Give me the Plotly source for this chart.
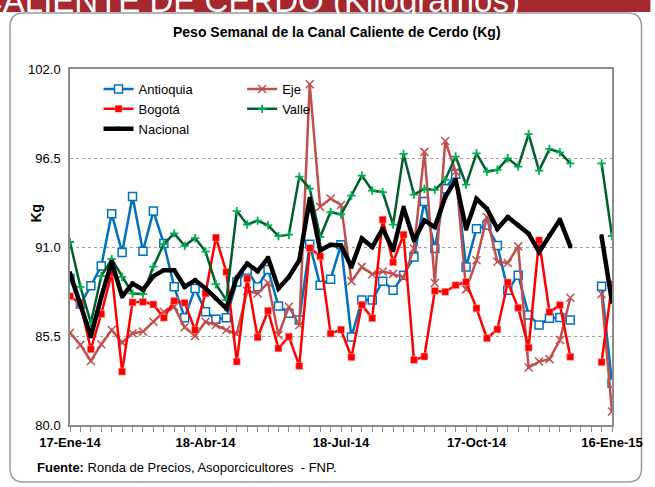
import pandas as pd
import plotly.graph_objects as go

# semanas: 17-Ene-14 ... 16-Ene-15
semanas = pd.date_range("2014-01-17", periods=53, freq="7D")

antioquia = [89.05, 87.47, 88.6, 89.83, 93.06, 90.66, 94.12, 90.74, 93.22, 91.21,
             88.54, 86.63, 88.44, 87.0, 86.53, 86.63, 88.84, 89.57, 88.54, 89.61,
             87.35, 86.9, 86.49, 91.17, 88.64, 89.01, 91.14, 85.44, 87.72, 87.72,
             88.89, 88.33, 89.26, 90.38, 93.81, 90.9, 94.6, 95.5, 89.77, 92.13,
             92.34, 91.1, 88.33, 89.26, 86.8, 86.18, 86.59, 86.65, 86.49, None,
             None, 88.58, 82.59]

eje = [85.7, 84.95, 83.96, 84.99, 85.87, 85.09, 85.67, 85.77, 86.38, 87.0,
       87.31, 86.04, 85.5, 86.38, 86.18, 85.87, 85.62, 88.29, 88.13, 88.78,
       85.56, 87.31, 86.18, 101.06, 93.48, 94.0, 93.6, 88.89, 89.77, 89.32,
       89.49, 89.34, 89.1, 90.9, 96.88, 88.78, 97.55, 95.66, 88.38, 90.18,
       92.85, 90.09, 90.01, 91.04, 83.55, 83.92, 84.07, 85.25, 87.86, None,
       None, 88.09, 80.84]

bogota = [87.96, 87.5, 84.68, 86.86, 89.4, 83.3, 87.58, 87.61, 87.45, 86.63,
          87.67, 87.55, 85.87, 88.13, 91.58, 89.46, 83.92, 89.05, 85.42, 87.06,
          84.74, 85.46, 83.65, 90.94, 90.43, 85.65, 85.89, 84.19, 87.43, 86.6,
          92.69, 90.06, 91.76, 84.02, 84.23, 88.29, 88.23, 88.64, 88.84, 87.21,
          85.36, 85.91, 88.81, 87.24, 84.78, 91.41, 86.98, 87.41, 84.21, None,
          None, 83.88, 88.7]

valle = [91.31, 88.54, 86.32, 89.2, 90.25, 89.15, 88.13, 88.09, 89.79, 91.18,
         91.84, 91.07, 91.55, 90.72, 88.7, 87.72, 93.22, 92.39, 92.63, 92.34,
         91.67, 91.76, 95.35, 94.61, 91.62, 93.16, 93.01, 94.18, 95.41, 94.49,
         94.39, 92.38, 96.75, 94.24, 94.6, 94.53, 95.15, 96.59, 94.86, 96.79,
         95.66, 95.77, 96.48, 95.97, 97.98, 95.72, 97.06, 96.85, 96.17, None,
         None, 96.17, 91.68]

nacional = [89.38, 87.4, 85.48, 87.9, 90.08, 87.94, 88.74, 88.36, 89.2, 89.57,
            89.57, 88.54, 88.95, 88.44, 87.82, 87.2, 89.1, 89.97, 89.5, 90.33,
            88.44, 89.15, 90.18, 93.98, 90.8, 91.14, 91.1, 89.77, 91.52, 91.0,
            92.13, 90.8, 93.43, 91.41, 92.64, 92.23, 94.08, 95.15, 92.13, 93.98,
            93.36, 92.13, 92.85, 92.34, 91.82, 90.69, 91.72, 92.69, 91.04, None,
            None, 91.66, 87.61]

tick_fechas = ["2014-01-17", "2014-04-18", "2014-07-18", "2014-10-17", "2015-01-16"]
tick_textos = ["17-Ene-14", "18-Abr-14", "18-Jul-14", "17-Oct-14", "16-Ene-15"]

W, H = 655, 487
ML, MR, MT, MB = 70, 34, 69, 62
PW, PH = W - ML - MR, H - MT - MB
FONT = "Liberation Sans, Arial, sans-serif"


def px_x(x):  # pixel -> paper
    return (x - ML) / PW


def px_y(y):
    return (H - MB - y) / PH


fig = go.Figure()

fig.add_trace(go.Scatter(
    x=semanas, y=antioquia, name="Antioquia", mode="lines+markers", legend="legend",
    line=dict(color="#0070C0", width=2.5),
    marker=dict(symbol="square", size=8, color="white", line=dict(color="#0070C0", width=1.5)),
))
fig.add_trace(go.Scatter(
    x=semanas, y=eje, name="Eje", mode="lines+markers", legend="legend2",
    line=dict(color="#C0504D", width=2.5),
    marker=dict(symbol="x-thin", size=8, color="#C0504D", line=dict(color="#C0504D", width=1.5)),
))
fig.add_trace(go.Scatter(
    x=semanas, y=bogota, name="Bogotá", mode="lines+markers", legend="legend",
    line=dict(color="#FF0000", width=2.5),
    marker=dict(symbol="square", size=7, color="#FF0000", line=dict(color="#FFB0B0", width=0.5)),
))
fig.add_trace(go.Scatter(
    x=semanas, y=valle, name="Valle", mode="lines+markers", legend="legend2",
    line=dict(color="#00602B", width=2.5),
    marker=dict(symbol="cross-thin", size=6, color="#00B050", line=dict(color="#00B050", width=1.8)),
))
fig.add_trace(go.Scatter(
    x=semanas, y=nacional, name="Nacional", mode="lines+markers", legend="legend",
    line=dict(color="black", width=4.5),
    marker=dict(symbol="square", size=4, color="black"),
))

# marco redondeado y franja roja superior
x0, x1, y0, y1, r = 9, 651, 13, 482, 14
marco = (f"M{px_x(x0)},{px_y(y0 + r)} Q{px_x(x0)},{px_y(y0)} {px_x(x0 + r)},{px_y(y0)} "
         f"L{px_x(x1 - r)},{px_y(y0)} Q{px_x(x1)},{px_y(y0)} {px_x(x1)},{px_y(y0 + r)} "
         f"L{px_x(x1)},{px_y(y1 - r)} Q{px_x(x1)},{px_y(y1)} {px_x(x1 - r)},{px_y(y1)} "
         f"L{px_x(x0 + r)},{px_y(y1)} Q{px_x(x0)},{px_y(y1)} {px_x(x0)},{px_y(y1 - r)} Z")

fig.update_layout(
    width=W, height=H,
    margin=dict(l=ML, r=MR, t=MT, b=MB),
    paper_bgcolor="white", plot_bgcolor="white",
    font=dict(family=FONT, size=13, color="black"),
    showlegend=True,
    legend=dict(x=px_x(99), y=px_y(74), xanchor="left", yanchor="top",
                bgcolor="rgba(0,0,0,0)", font=dict(size=13), tracegroupgap=0),
    legend2=dict(x=px_x(245), y=px_y(74), xanchor="left", yanchor="top",
                 bgcolor="rgba(0,0,0,0)", font=dict(size=13)),
    shapes=[
        dict(type="rect", xref="paper", yref="paper", x0=px_x(-5), x1=px_x(W + 5),
             y0=px_y(12), y1=px_y(-5), fillcolor="#A5282E", line_width=0, layer="below"),
        dict(type="path", xref="paper", yref="paper", path=marco,
             line=dict(color="#9A9A9A", width=1.5), layer="below"),
    ],
    annotations=[
        dict(text="CALIENTE DE CERDO (Kilogramos)", xref="paper", yref="paper",
             x=px_x(530), y=px_y(21), xanchor="right", yanchor="bottom", showarrow=False,
             font=dict(size=33, color="white", family=FONT)),
        dict(text="<b>Peso Semanal de la Canal Caliente de Cerdo (Kg)</b>", xref="paper", yref="paper",
             x=px_x(341), y=px_y(32), xanchor="center", yanchor="middle", showarrow=False,
             font=dict(size=14)),
        dict(text="<b>Kg</b>", xref="paper", yref="paper", x=px_x(35), y=px_y(213),
             xanchor="center", yanchor="middle", textangle=-90, showarrow=False,
             font=dict(size=14)),
        dict(text="<b>Fuente:</b> Ronda de Precios, Asoporcicultores  - FNP.", xref="paper",
             yref="paper", x=px_x(34), y=px_y(467), xanchor="left", yanchor="middle",
             showarrow=False, font=dict(size=13)),
    ],
)

fig.update_xaxes(
    range=[tick_fechas[0], tick_fechas[-1]],
    tickvals=tick_fechas, ticktext=[f"<b>{t}</b>" for t in tick_textos],
    ticks="outside", ticklen=5, tickcolor="#8C8C8C",
    minor=dict(ticks="outside", ticklen=5, tickcolor="#8C8C8C",
               tick0=tick_fechas[0], dtick=7 * 24 * 3600 * 1000),
    showline=True, linecolor="#8C8C8C", linewidth=1.5, mirror=True,
    showgrid=False, tickfont=dict(size=13),
)
fig.update_yaxes(
    range=[80, 102], tick0=80, dtick=5.5, tickformat=".1f",
    ticks="outside", ticklen=5, tickcolor="rgba(0,0,0,0)",
    showline=True, linecolor="#8C8C8C", linewidth=1.5, mirror=True,
    showgrid=True, gridcolor="#A0A0A0", griddash="dot", gridwidth=1,
    zeroline=False, tickfont=dict(size=13),
)

# quitar el margen del <body> para que la figura ocupe la ventana desde (0,0)
fig.write_html("out.html", config={"displayModeBar": False},
               post_script="document.body.style.margin='0';")
